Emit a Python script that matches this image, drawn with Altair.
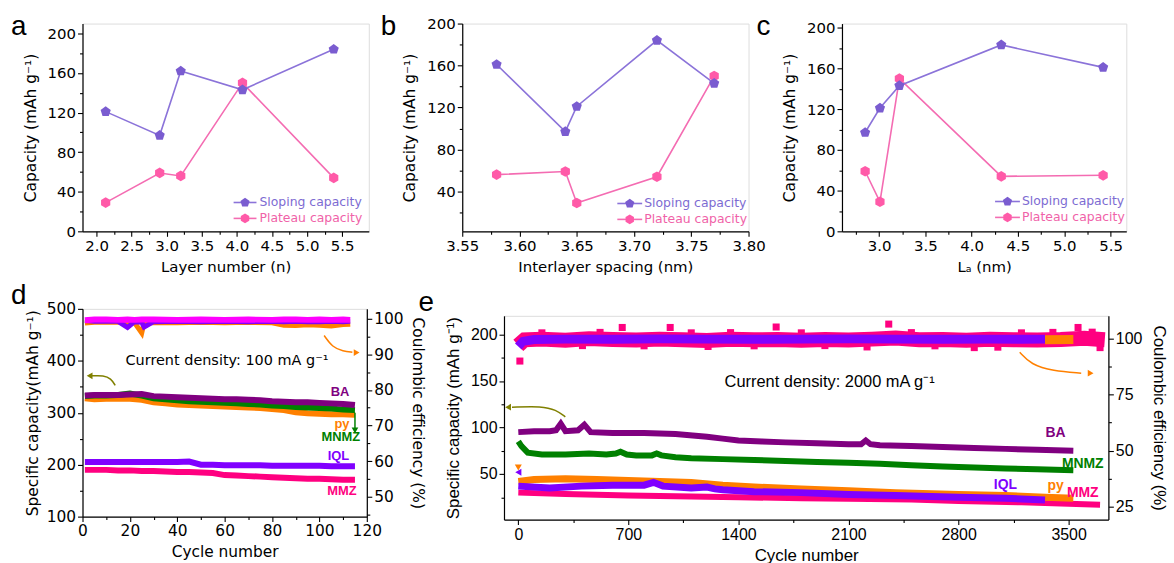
import altair as alt
import pandas as pd

F = "DejaVu Sans"
FA = "Liberation Sans"

# ---------------- data: panels a-c ----------------
a_layer_number = [2.13, 2.90, 3.20, 4.08, 5.38]
a_sloping = [121, 97, 162, 143, 184]
a_plateau = [29, 59, 56, 150, 54]

b_spacing = [3.58, 3.64, 3.65, 3.72, 3.77]
b_sloping = [161, 97, 121, 184, 143]
b_plateau = [56, 59, 29, 54, 150]

c_la = [2.85, 3.01, 3.22, 4.32, 5.42]
c_sloping = [97, 121, 143, 183, 161]
c_plateau = [59, 29, 150, 54, 55]

# ---------------- data: panel d (100 mA/g) ----------------
d_cycles = [1, 5, 10, 15, 20, 25, 30, 35, 40, 45, 50, 55, 60, 65, 70, 75, 80, 85, 90, 95, 100, 105, 110, 115]
d_BA = [333, 334, 334, 334, 335, 336, 332, 331, 330, 329, 328, 327, 326, 326, 325, 324, 322, 321, 320, 320, 319, 318, 317, 315]
d_MNMZ = [332, 333, 333, 334, 337, 333, 328, 326, 324, 322, 321, 320, 319, 318, 317, 316, 314, 313, 311, 310, 309, 308, 306, 305]
d_py = [328, 326, 327, 327, 327, 325, 320, 318, 316, 315, 314, 313, 312, 311, 310, 309, 307, 305, 301, 299, 298, 297, 297, 296]
d_IQL = [205, 205, 205, 205, 205, 205, 205, 205, 205, 206, 200, 200, 199, 199, 199, 199, 198, 198, 198, 198, 198, 197, 197, 197]
d_MMZ = [190, 190, 190, 189, 189, 188, 188, 187, 186, 186, 185, 184, 180, 179, 178, 177, 176, 175, 174, 173, 173, 172, 171, 171]

d_ce_cycles = [1, 5, 10, 15, 19, 22, 25, 26, 30, 40, 50, 60, 70, 80, 85, 90, 95, 100, 105, 110, 113]
d_ce_magenta = [99.6, 99.8, 99.8, 99.7, 99.8, 99.7, 99.8, 99.8, 99.8, 99.7, 99.8, 99.7, 99.8, 99.7, 99.8, 99.8, 99.7, 99.8, 99.7, 99.8, 99.7]
d_ce_purple = [99.5, 99.3, 99.4, 99.3, 97.6, 99.2, 99.0, 97.7, 99.2, 99.3, 99.2, 99.3, 99.2, 99.3, 99.2, 99.3, 99.2, 99.2, 99.3, 99.2, 99.3]
d_ce_orange = [98.8, 99.0, 99.0, 99.0, 99.0, 98.9, 96.0, 98.9, 98.9, 98.9, 99.0, 98.9, 99.0, 98.9, 98.2, 98.1, 98.3, 98.2, 98.0, 98.4, 98.5]

d_labels = ["BA", "py", "MNMZ", "IQL", "MMZ"]
d_label_x = [108.7, 109.5, 109, 108, 109.5]
d_label_y = [340.5, 279, 253, 216, 149]

d_olive_arrow_x = [13.8, 12.0, 8.9, 4.0]
d_olive_arrow_y = [352.6, 366, 372, 371]
d_orange_arrow_x = [102, 105.5, 110, 113.9]
d_orange_arrow_y = [95.3, 92.0, 90.9, 90.6]
d_green_arrow = [115, 300, 266]

# ---------------- data: panel e (2000 mA/g) ----------------
e_BA_cyc = [0, 100, 200, 240, 270, 300, 380, 420, 460, 600, 800, 1000, 1200, 1300, 1400, 1550, 1700, 1900, 2100, 2180, 2210, 2240, 2300, 2500, 2700, 2900, 3100, 3300, 3530]
e_BA = [95, 96, 96, 97, 104, 96, 97, 103, 95, 94, 94, 93, 90, 88, 86, 85, 84, 83, 82, 82, 86, 82, 81, 80, 79, 78, 77, 76, 75]
e_MNMZ_cyc = [0, 20, 60, 150, 300, 450, 560, 620, 650, 690, 750, 850, 880, 910, 1000, 1100, 1300, 1500, 1700, 1900, 2100, 2300, 2500, 2700, 2900, 3100, 3300, 3530]
e_MNMZ = [85, 80, 73, 71, 71, 72, 71, 72, 74, 71, 70, 70, 72, 70, 68, 67, 66, 65, 64, 63, 62, 61, 59.5, 58, 57, 56, 55, 54]
e_py_cyc = [0, 100, 300, 500, 700, 900, 1100, 1300, 1500, 1800, 2100, 2400, 2800, 3100, 3350, 3530]
e_py = [42, 44, 45, 44, 43, 42, 41, 38, 36, 34, 32, 30, 28, 27, 25, 24]
e_IQL_cyc = [0, 200, 400, 600, 800, 860, 920, 1100, 1200, 1250, 1300, 1500, 1800, 2100, 2400, 2800, 3100, 3350]
e_IQL = [37, 35, 37, 38, 38, 41, 37, 35, 36, 34, 33, 31, 30, 28, 27, 25, 24, 22]
e_MMZ_cyc = [0, 300, 700, 1000, 1400, 1800, 2100, 2500, 2800, 3200, 3500, 3700]
e_MMZ = [30, 28.5, 27, 26, 25, 24, 23.5, 22.5, 21, 19.5, 18, 17]

e_ce_pink_cyc = [0, 40, 150, 300, 450, 600, 750, 900, 1050, 1200, 1350, 1500, 1650, 1800, 1950, 2100, 2250, 2400, 2550, 2700, 2850, 3000, 3150, 3300, 3450, 3600, 3730]
e_ce_pink = [97, 99.5, 99.8, 99.3, 100, 99.6, 99.4, 99.8, 99.5, 99.2, 99.7, 99.5, 99.6, 99.3, 99.6, 99.4, 99.8, 100.3, 99.5, 99.6, 99.3, 99.7, 99.5, 99.4, 99.6, 100.2, 99.5]
e_ce_pink_sq_cyc = [10, 150, 408, 520, 661, 800, 966, 1100, 1207, 1350, 1500, 1640, 1800, 1950, 2218, 2356, 2500, 2650, 2900, 3050, 3200, 3400, 3560, 3650, 3700]
e_ce_pink_sq = [90, 102.6, 96.9, 102.8, 105, 96.8, 105, 102.6, 96.5, 102.7, 96.8, 105.2, 102.6, 96.9, 96.3, 106.5, 102.7, 96.8, 96, 96.2, 102.6, 102.8, 105, 102.9, 96]
e_ce_purple_cyc = [0, 30, 100, 300, 600, 900, 1200, 1500, 1800, 2100, 2400, 2700, 3000, 3200, 3350]
e_ce_purple = [96.5, 98.8, 99.6, 99.8, 99.7, 99.9, 99.8, 99.7, 99.8, 99.9, 99.8, 99.7, 99.8, 99.7, 99.8]
e_ce_orange_cyc = [3350, 3530]
e_ce_orange = [99.5, 99.6]

e_labels = ["BA", "MNMZ", "IQL", "py", "MMZ"]
e_label_x = [3417, 3590, 3098, 3417, 3590]
e_label_y = [94, 61, 38.5, 37, 29.5]

e_olive_arrow_x = [-40, 150, 240, 299]
e_olive_arrow_y = [121.8, 123, 119, 111.4]
e_orange_arrow_x = [3189, 3260, 3400, 3580]
e_orange_arrow_y = [93.9, 88.5, 85.5, 84.6]

# ---------------- colours ----------------
SLOPE_LINE, SLOPE_MK, SLOPE_TXT = "#8b73d9", "#7a5cd0", "#7d6bd2"
PLAT_LINE, PLAT_MK, PLAT_TXT = "#f46cb2", "#ff5aa8", "#f062a8"
C_BA, C_MNMZ, C_PY, C_IQL, C_MMZ = "#800080", "#008000", "#ff8000", "#8000ff", "#ff0080"
C_MAG, C_OLIVE = "#ff00ff", "#808000"

PENT = "M0,-1L0.951,-0.309L0.588,0.809L-0.588,0.809L-0.951,-0.309Z"
HEXA = "M0,-1L0.866,-0.5L0.866,0.5L0,1L-0.866,0.5L-0.866,-0.5Z"


def mk_axis(vals, step, fmt, title, orient, font, lsize, tsize, tpad):
    test = f"abs(datum.value/{step} - round(datum.value/{step})) < 1e-6"
    return alt.Axis(
        values=vals, orient=orient, title=title,
        labelExpr=f"({test}) ? format(datum.value, '{fmt}') : ''",
        tickSize={"condition": {"test": test, "value": 5}, "value": 3},
        labelOverlap=False, labelFlush=False, grid=False,
        labelFont=font, titleFont=font, labelFontSize=lsize, titleFontSize=tsize,
        titleFontWeight="normal", titlePadding=tpad, labelPadding=2,
        labelColor="black", titleColor="black", domainColor="black", tickColor="black",
        domainWidth=1.2, tickWidth=1.1,
    )


def frange(a, b, s):
    out, v = [], a
    while v <= b + 1e-9:
        out.append(round(v, 4))
        v += s
    return out


def df_xy(xs, ys):
    return pd.DataFrame({"x": xs, "y": ys})


ONE = pd.DataFrame({"k": [0]})


def letter(ch, dx, dy):
    return alt.Chart(ONE).mark_text(align="left", baseline="alphabetic", font=FA, fontSize=28, color="black").encode(
        x=alt.value(dx), y=alt.value(dy), text=alt.value(ch))


def top_panel(xs, slope, plateau, xdom, xvals, xstep, xfmt, ydom, yvals, xtitle, ch, chdx, leg, w):
    X = alt.X("x:Q", scale=alt.Scale(domain=xdom, nice=False, zero=False),
              axis=mk_axis(xvals, xstep, xfmt, xtitle, "bottom", F, 15, 15, 6))
    Y = alt.Y("y:Q", scale=alt.Scale(domain=ydom, nice=False, zero=False),
              axis=mk_axis(yvals, 40, "d", "Capacity (mAh g\u207b\u00b9)", "left", F, 15, 15.5, 9))
    layers = []
    for ys, lc, mc, shp in [(plateau, PLAT_LINE, PLAT_MK, HEXA), (slope, SLOPE_LINE, SLOPE_MK, PENT)]:
        d = df_xy(xs, ys)
        layers.append(alt.Chart(d).mark_line(color=lc, strokeWidth=1.6).encode(x=X, y=Y))
        layers.append(alt.Chart(d).mark_point(filled=True, color=mc, opacity=1, size=115, shape=shp).encode(x=X, y=Y))
    lx0, lx1, ly1, ly2, ltx = leg
    for yy, name, lc, mc, tc, shp in [(ly1, "Sloping capacity", SLOPE_LINE, SLOPE_MK, SLOPE_TXT, PENT),
                                       (ly2, "Plateau capacity", PLAT_LINE, PLAT_MK, PLAT_TXT, HEXA)]:
        layers.append(alt.Chart(ONE).mark_rule(color=lc, strokeWidth=1.6).encode(
            x=alt.value(lx0), x2=alt.value(lx1), y=alt.value(yy)))
        layers.append(alt.Chart(ONE).mark_point(filled=True, color=mc, opacity=1, size=95, shape=shp).encode(
            x=alt.value((lx0 + lx1) / 2), y=alt.value(yy)))
        layers.append(alt.Chart(ONE).mark_text(align="left", baseline="middle", font=F, fontSize=12.5, color=tc).encode(
            x=alt.value(ltx), y=alt.value(yy), text=alt.value(name)))
    layers.append(letter(ch, chdx, 12))
    return alt.layer(*layers).properties(width=w, height=209)


panel_a = top_panel(a_layer_number, a_sloping, a_plateau, [1.8, 5.88], frange(2.0, 5.5, 0.25), 0.5, ".1f",
                    [0, 210], frange(0, 200, 20), "Layer number (n)", "a", -72, (152, 175, 180, 196, 178), 288)
panel_b = top_panel(b_spacing, b_sloping, b_plateau, [3.55, 3.80], frange(3.55, 3.80, 0.025), 0.05, ".2f",
                    [2, 200], frange(20, 200, 20), "Interlayer spacing (nm)", "b", -82, (156, 181, 181, 197, 183), 288)
panel_c = top_panel(c_la, c_sloping, c_plateau, [2.6, 5.67], frange(2.75, 5.5, 0.25), 0.5, ".1f",
                    [0, 204], frange(0, 200, 20), "L\u2090 (nm)", "c", -86, (154, 179, 179, 195, 181), 286)


def line_layer(xs, ys, X, Y, color, sw, interp="linear"):
    return alt.Chart(df_xy(xs, ys)).mark_line(color=color, strokeWidth=sw, interpolate=interp).encode(x=X, y=Y)


def pts_layer(xs, ys, X, Y, color, size, shape):
    return alt.Chart(df_xy(xs, ys)).mark_point(filled=True, color=color, opacity=1, size=size, shape=shape).encode(x=X, y=Y)


def labels_layer(names, xs, ys, colors, X, Y, font, size):
    d = pd.DataFrame({"x": xs, "y": ys, "t": names, "c": colors})
    return alt.Chart(d).mark_text(font=font, fontSize=size, fontWeight="bold", align="center", baseline="middle").encode(
        x=X, y=Y, text="t:N", color=alt.Color("c:N", scale=None))


def note_layer(x, y, txt, X, Y, font, size):
    d = pd.DataFrame({"x": [x], "y": [y], "t": [txt]})
    return alt.Chart(d).mark_text(font=font, fontSize=size, align="center", baseline="middle", color="black").encode(
        x=X, y=Y, text="t:N")


# ---------------- panel d ----------------
Xd = alt.X("x:Q", scale=alt.Scale(domain=[0, 120], nice=False, zero=False),
           axis=mk_axis(frange(0, 120, 10), 20, "d", "Cycle number", "bottom", F, 15.5, 15.5, 6))
Ydl = alt.Y("y:Q", scale=alt.Scale(domain=[100, 500], nice=False, zero=False),
            axis=mk_axis(frange(100, 500, 50), 100, "d", "Specific capacity(mAh g\u207b\u00b9)", "left", F, 15.5, 15.5, 6))
Ydr = alt.Y("y:Q", scale=alt.Scale(domain=[44.4, 102.8], nice=False, zero=False),
            axis=mk_axis(frange(45, 100, 5), 10, "d", "Coulombic efficiency (%)", "right", F, 15.5, 15.5, 6))

d_left = [
    line_layer(d_cycles, d_MMZ, Xd, Ydl, C_MMZ, 6),
    line_layer(d_cycles, d_IQL, Xd, Ydl, C_IQL, 6),
    line_layer(d_cycles, d_py, Xd, Ydl, C_PY, 6),
    line_layer(d_cycles, d_MNMZ, Xd, Ydl, C_MNMZ, 6),
    line_layer(d_cycles, d_BA, Xd, Ydl, C_BA, 6),
    labels_layer(d_labels, d_label_x, d_label_y, [C_BA, C_PY, C_MNMZ, C_IQL, C_MMZ], Xd, Ydl, FA, 13),
    note_layer(61, 399, "Current density: 100 mA g\u207b\u00b9", Xd, Ydl, F, 14.5),
    line_layer(d_olive_arrow_x, d_olive_arrow_y, Xd, Ydl, C_OLIVE, 1.5, "basis"),
    pts_layer([3.0], [371], Xd, Ydl, C_OLIVE, 45, "triangle-left"),
    alt.Chart(pd.DataFrame({"x": [d_green_arrow[0]], "y": [d_green_arrow[1]], "y2": [d_green_arrow[2]]})).mark_rule(
        color=C_MNMZ, strokeWidth=1.5).encode(x=Xd, y=Ydl, y2="y2:Q"),
    pts_layer([d_green_arrow[0]], [d_green_arrow[2]], Xd, Ydl, C_MNMZ, 45, "triangle-down"),
    letter("d", -72, -5),
]
d_right = [
    line_layer(d_ce_cycles, d_ce_orange, Xd, Ydr, C_PY, 5),
    line_layer(d_ce_cycles, d_ce_purple, Xd, Ydr, C_IQL, 5),
    line_layer(d_ce_cycles, d_ce_magenta, Xd, Ydr, C_MAG, 6),
    line_layer(d_orange_arrow_x, d_orange_arrow_y, Xd, Ydr, C_PY, 1.5, "basis"),
    pts_layer([115.7], [90.5], Xd, Ydr, C_PY, 45, "triangle-right"),
]
panel_d = alt.layer(alt.layer(*d_left), alt.layer(*d_right)).resolve_scale(y="independent").properties(width=286, height=209)

# ---------------- panel e ----------------
Xe = alt.X("x:Q", scale=alt.Scale(domain=[-91, 3753], nice=False, zero=False),
           axis=mk_axis(frange(0, 3500, 350), 700, "d", "Cycle number", "bottom", FA, 16, 17, 5))
Yel = alt.Y("y:Q", scale=alt.Scale(domain=[1, 220], nice=False, zero=False),
            axis=mk_axis(frange(25, 200, 25), 50, "d", "Specific capacity (mAh g\u207b\u00b9)", "left", FA, 16, 17, 8))
Yer = alt.Y("y:Q", scale=alt.Scale(domain=[19.2, 110.2], nice=False, zero=False),
            axis=mk_axis(frange(25, 100, 12.5), 25, "d", "Coulombic efficiency (%)", "right", FA, 16, 17, 8))

e_left = [
    line_layer(e_MMZ_cyc, e_MMZ, Xe, Yel, C_MMZ, 6),
    line_layer(e_py_cyc, e_py, Xe, Yel, C_PY, 7),
    line_layer(e_IQL_cyc, e_IQL, Xe, Yel, C_IQL, 7),
    line_layer(e_MNMZ_cyc, e_MNMZ, Xe, Yel, C_MNMZ, 6),
    line_layer(e_BA_cyc, e_BA, Xe, Yel, C_BA, 6),
    pts_layer([0], [57], Xe, Yel, C_PY, 50, "triangle-down"),
    pts_layer([0], [52], Xe, Yel, C_IQL, 50, "triangle-left"),
    labels_layer(e_labels, e_label_x, e_label_y, [C_BA, C_MNMZ, C_IQL, C_PY, C_MMZ], Xe, Yel, FA, 14),
    note_layer(1980, 149, "Current density: 2000 mA g\u207b\u00b9", Xe, Yel, FA, 16.5),
    line_layer(e_olive_arrow_x, e_olive_arrow_y, Xe, Yel, C_OLIVE, 1.5, "basis"),
    pts_layer([-65], [121.8], Xe, Yel, C_OLIVE, 45, "triangle-left"),
    letter("e", -86, -5),
]
e_right = [
    line_layer(e_ce_pink_cyc, e_ce_pink, Xe, Yer, C_MMZ, 15),
    pts_layer(e_ce_pink_sq_cyc, e_ce_pink_sq, Xe, Yer, C_MMZ, 50, "square"),
    line_layer(e_ce_purple_cyc, e_ce_purple, Xe, Yer, C_IQL, 9),
    line_layer(e_ce_orange_cyc, e_ce_orange, Xe, Yer, C_PY, 9),
    line_layer(e_orange_arrow_x, e_orange_arrow_y, Xe, Yer, C_PY, 1.5, "basis"),
    pts_layer([3640], [84.6], Xe, Yer, C_PY, 45, "triangle-right"),
]
panel_e = alt.layer(alt.layer(*e_left), alt.layer(*e_right)).resolve_scale(y="independent").properties(width=608, height=205)

spacer = alt.Chart(ONE).mark_point(opacity=0).encode(
    x=alt.X("k:Q", axis=None), y=alt.Y("k:Q", axis=None)
).properties(width=608, height=7, view=alt.ViewBackground(stroke=None))

e_col = alt.vconcat(spacer, panel_e, spacing=0, bounds="flush")
top = alt.hconcat(panel_a, panel_b, panel_c, spacing=94, bounds="flush")
bottom = alt.hconcat(panel_d, e_col, spacing=138, bounds="flush")

chart = alt.vconcat(top, bottom, spacing=6).properties(
    padding={"left": 10, "top": 11, "right": 5, "bottom": 5}
).configure_view(stroke="black", strokeWidth=1.2).configure(background="white")

chart.save("out.html", embed_options={"renderer": "svg", "actions": False})
